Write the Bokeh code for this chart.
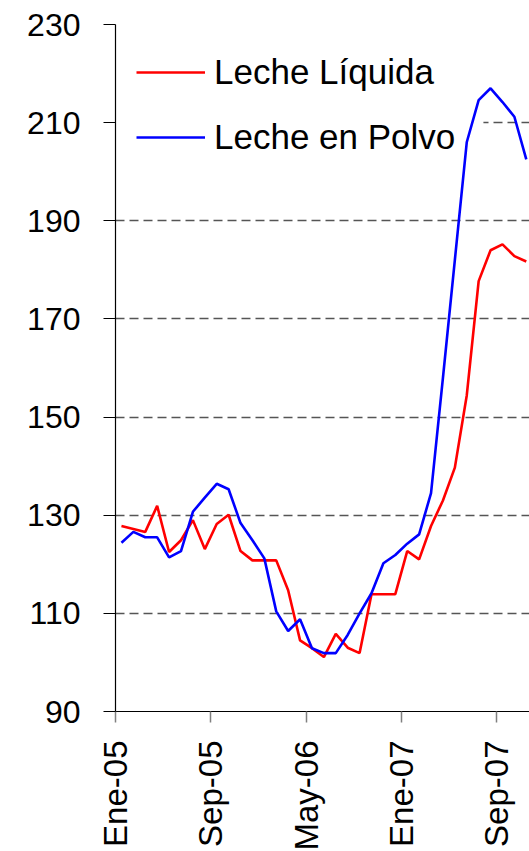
import numpy as np
from bokeh.plotting import figure
from bokeh.models import FixedTicker, Range1d, Legend, LegendItem
from bokeh.embed import file_html
from bokeh.resources import INLINE

# ---- data ----
months = ["Ene-05", "Feb-05", "Mar-05", "Abr-05", "May-05", "Jun-05", "Jul-05", "Ago-05",
          "Sep-05", "Oct-05", "Nov-05", "Dic-05",
          "Ene-06", "Feb-06", "Mar-06", "Abr-06", "May-06", "Jun-06", "Jul-06", "Ago-06",
          "Sep-06", "Oct-06", "Nov-06", "Dic-06",
          "Ene-07", "Feb-07", "Mar-07", "Abr-07", "May-07", "Jun-07", "Jul-07", "Ago-07",
          "Sep-07", "Oct-07", "Nov-07"]

leche_liquida = [127.8, 127.2, 126.6, 131.9, 122.5, 124.9, 129.0, 123.1,
                 128.2, 130.1, 122.7, 120.8,
                 120.8, 120.8, 114.7, 104.5, 102.9, 101.1, 105.8, 103.0,
                 101.9, 113.9, 113.9, 113.9,
                 122.7, 121.0, 127.8, 133.0, 139.7, 154.4, 177.7, 184.0,
                 185.2, 182.8, 181.7]

leche_polvo = [124.4, 126.6, 125.5, 125.5, 121.4, 122.7, 130.7, 133.6,
               136.4, 135.3, 128.4, 124.9,
               121.2, 110.4, 106.4, 108.8, 102.9, 101.9, 101.9, 105.6,
               110.0, 114.1, 120.2, 121.9,
               124.2, 126.1, 134.5, 158.0, 182.0, 206.0, 214.6, 217.0,
               214.2, 211.2, 202.5]

y_ticks = [90, 110, 130, 150, 170, 190, 210, 230]
grid_values = [110, 130, 150, 170, 190, 210]
x_tick_labels = ["Ene-05", "Sep-05", "May-06", "Ene-07", "Sep-07"]

# ---- figure ----
idx = np.arange(len(months))
x_mid = idx + 0.5          # categories sit between tick marks
tick_pos = [months.index(l) for l in x_tick_labels]

FONT = "Liberation Sans"

p = figure(frame_width=414, frame_height=687,
           min_border_left=115, min_border_right=0,
           min_border_top=24, min_border_bottom=136,
           x_range=Range1d(0, 34.77), y_range=Range1d(90, 230),
           output_backend="svg", toolbar_location=None,
           background_fill_color="white", border_fill_color="white")
p.outline_line_color = None

# white backing of the legend box (hides the gridline behind the legend,
# but stays under the series lines)
p.quad(left=[0], right=[30.9], bottom=[200], top=[230],
       fill_color="white", line_color=None, level="underlay")

r1 = p.line(x_mid, leche_liquida, line_color="#FF0000", line_width=2.6)
r2 = p.line(x_mid, leche_polvo, line_color="#0000FF", line_width=2.6)

# x axis
p.xaxis.ticker = FixedTicker(ticks=tick_pos)
p.xaxis.major_label_overrides = {t: l for t, l in zip(tick_pos, x_tick_labels)}
p.xaxis.major_label_orientation = np.pi / 2
p.xaxis.major_label_text_font = FONT
p.xaxis.major_label_text_font_size = "33px"
p.xaxis.major_label_text_color = "black"
p.xaxis.major_label_standoff = 18
p.xaxis.major_tick_out = 11
p.xaxis.major_tick_in = 0
p.xaxis.minor_tick_line_color = None
p.xaxis.major_tick_line_color = "#808080"
p.xaxis.major_tick_line_width = 1.5
p.xaxis.axis_line_color = "black"
p.xaxis.axis_line_width = 1.2

# y axis
p.yaxis.ticker = FixedTicker(ticks=y_ticks)
p.yaxis.major_label_text_font = FONT
p.yaxis.major_label_text_font_size = "32px"
p.yaxis.major_label_text_color = "black"
p.yaxis.major_label_standoff = 23
p.yaxis.major_tick_out = 12
p.yaxis.major_tick_in = 0
p.yaxis.minor_tick_line_color = None
p.yaxis.major_tick_line_color = "black"
p.yaxis.axis_line_color = "black"
p.yaxis.axis_line_width = 1.2

# grid
p.xgrid.visible = False
p.ygrid.level = "image"
p.ygrid.ticker = FixedTicker(ticks=grid_values)
p.ygrid.grid_line_color = "#555555"
p.ygrid.grid_line_width = 1.3
p.ygrid.grid_line_dash = "9 5"

# legend
legend = Legend(items=[LegendItem(label="Leche Líquida", renderers=[r1]),
                       LegendItem(label="Leche en Polvo", renderers=[r2])],
                location=(21, 554), orientation="vertical")
legend.padding = 20
legend.margin = 0
legend.spacing = 25
legend.glyph_width = 69
legend.glyph_height = 40
legend.label_width = 270
legend.label_standoff = 9
legend.label_text_font = FONT
legend.label_text_font_size = "35px"
legend.label_text_color = "black"
legend.border_line_color = None
legend.background_fill_alpha = 0.0
p.add_layout(legend, "center")

open("out.html", "w").write(file_html(p, INLINE))
